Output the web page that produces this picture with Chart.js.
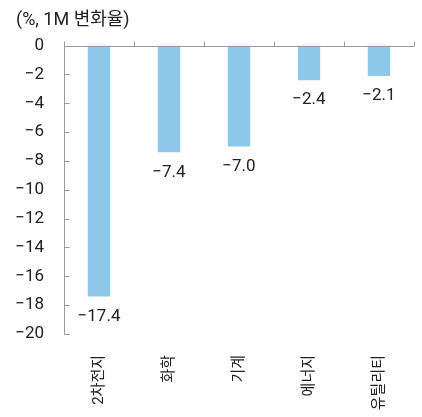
<!DOCTYPE html>
<html>
<head>
<meta charset="utf-8">
<script src="https://cdn.jsdelivr.net/npm/chart.js@4"></script>
<style>
  body { margin: 0; background: #fff; }
</style>
</head>
<body>
<canvas id="chartBar" width="422" height="417"></canvas>
<script>
// data
const categories = ['2차전지', '화학', '기계', '에너지', '유틸리티'];
const changes = [-17.4, -7.4, -7.0, -2.4, -2.1];
const yMin = -20;
const yMax = 0;
const yStep = 2;

const FONT = "Roboto, 'Noto Sans CJK KR', sans-serif";
const fmt = (v, d) => (v < 0 ? '\u2212' : '') + Math.abs(v).toFixed(d);

// axis lines, inside ticks, y labels and the value labels under each bar
const axisFrame = {
    id: 'axisFrame',
    afterDraw(chart) {
        const { ctx, chartArea: a, scales: { x, y } } = chart;
        ctx.save();
        ctx.strokeStyle = '#9b9b9b';
        ctx.lineWidth = 1;
        ctx.beginPath();
        const x0 = Math.round(a.left) + 0.5;
        const y0 = Math.round(y.getPixelForValue(0)) + 0.5;
        ctx.moveTo(x0, y0);
        ctx.lineTo(x0, Math.round(y.getPixelForValue(yMin)) + 0.5);
        y.ticks.forEach(t => {
            const py = Math.round(y.getPixelForValue(t.value)) + 0.5;
            ctx.moveTo(x0, py);
            ctx.lineTo(x0 + 5, py);
        });
        ctx.moveTo(a.left, y0);
        ctx.lineTo(a.right, y0);
        for (let i = 0; i <= categories.length; i++) {
            const px = Math.round(x.getPixelForValue(i - 0.5)) + 0.5;
            ctx.moveTo(px, y0);
            ctx.lineTo(px, y0 - 5);
        }
        ctx.stroke();

        ctx.fillStyle = '#222';
        ctx.font = '17px ' + FONT;
        ctx.textBaseline = 'middle';
        ctx.textAlign = 'right';
        y.ticks.forEach(t => {
            ctx.fillText(fmt(t.value, 0), a.left - 20, y.getPixelForValue(t.value));
        });
        ctx.textAlign = 'center';
        chart.getDatasetMeta(0).data.forEach((bar, i) => {
            ctx.fillText(fmt(changes[i], 1), bar.x, bar.y + 20);
        });
        ctx.restore();
    }
};

const ctx = document.getElementById('chartBar').getContext('2d');
const chart = new Chart(ctx, {
    type: 'bar',
    data: {
        labels: categories,
        datasets: [{
            data: changes,
            backgroundColor: '#8fc9ea',
            borderWidth: 0,
            categoryPercentage: 1,
            barPercentage: 0.32
        }]
    },
    options: {
        responsive: false,
        animation: false,
        layout: { padding: { left: 16, right: 8, top: 0, bottom: 0 } },
        plugins: {
            legend: { display: false },
            tooltip: { enabled: false },
            title: {
                display: true,
                text: '(%, 1M 변화율)',
                align: 'start',
                color: '#222',
                font: { family: FONT, size: 18, weight: 'normal' },
                padding: { top: 10, bottom: 14 }
            }
        },
        scales: {
            x: {
                position: 'bottom',
                grid: { display: false },
                border: { display: false },
                ticks: {
                    autoSkip: false,
                    minRotation: 90,
                    maxRotation: 90,
                    padding: 13,
                    color: '#222',
                    font: { family: FONT, size: 15 }
                },
                afterFit(scale) { scale.height = 83; }
            },
            y: {
                min: yMin,
                max: yMax,
                grid: { display: false },
                border: { display: false },
                ticks: { display: false, stepSize: yStep },
                afterFit(scale) { scale.width = 48; }
            }
        }
    },
    plugins: [axisFrame]
});
</script>
</body>
</html>
